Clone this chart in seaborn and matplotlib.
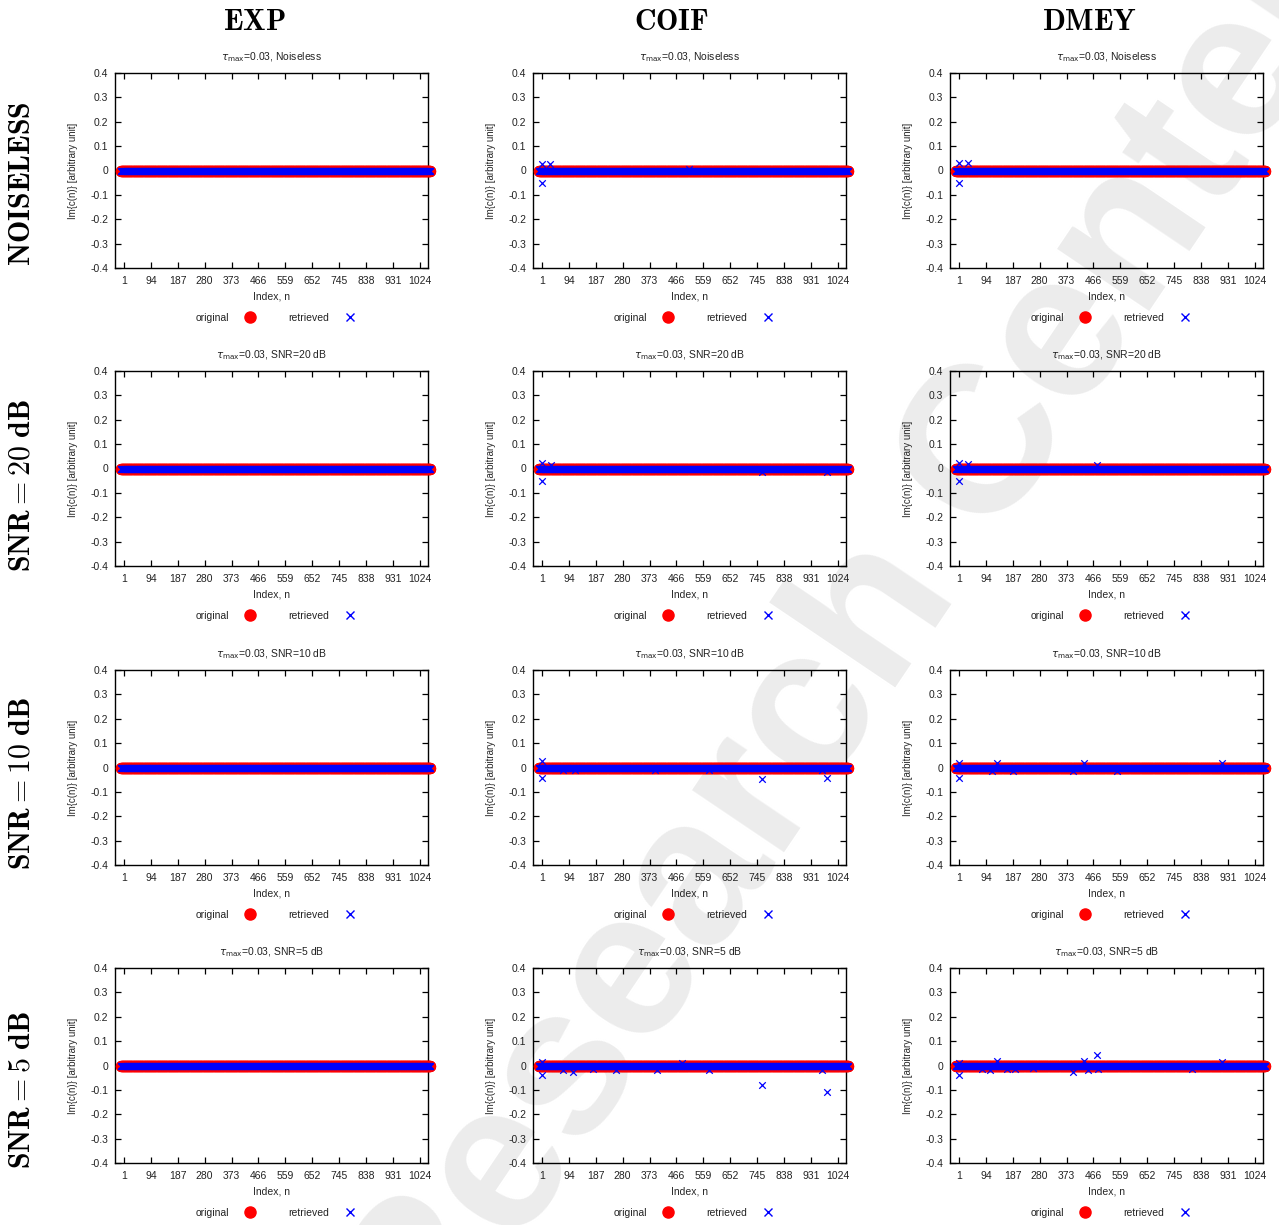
import numpy as np
import matplotlib
matplotlib.use("Agg")
import matplotlib.pyplot as plt
from matplotlib.lines import Line2D
import seaborn as sns

sns.set_theme(style="ticks")
plt.rcParams["font.family"] = ["Liberation Sans", "DejaVu Sans"]
plt.rcParams["axes.edgecolor"] = "black"
plt.rcParams["text.color"] = "#222222"

# ---- data -----------------------------------------------------------------
index_n = np.arange(-10, 1061)                     # coefficient index
xtick_values = [1, 94, 187, 280, 373, 466, 559, 652, 745, 838, 931, 1024]
ytick_values = [-0.4, -0.3, -0.2, -0.1, 0.0, 0.1, 0.2, 0.3, 0.4]
ytick_labels = ["-0.4", "-0.3", "-0.2", "-0.1", "0", "0.1", "0.2", "0.3", "0.4"]

methods = ["EXP", "COIF", "DMEY"]
conditions = ["Noiseless", "SNR=20 dB", "SNR=10 dB", "SNR=5 dB"]
row_labels = ["NOISELESS", "SNR{=}20\\ dB", "SNR{=}10\\ dB", "SNR{=}5\\ dB"]
tau_max = 0.03

# original imaginary part: identically zero
original_values = np.zeros(len(index_n))

# retrieved coefficients that deviate from zero (index, value)
exp_noiseless_n, exp_noiseless_v = [], []
exp_snr20_n, exp_snr20_v = [], []
exp_snr10_n, exp_snr10_v = [], []
exp_snr5_n, exp_snr5_v = [], []

coif_noiseless_n = [0, 2, 29, 509]
coif_noiseless_v = [0.025, -0.05, 0.025, 0.008]
coif_snr20_n = [0, 2, 31, 762, 988]
coif_snr20_v = [0.023, -0.052, 0.015, -0.016, -0.016]
coif_snr10_n = [0, 2, 73, 115, 392, 578, 762, 968, 988]
coif_snr10_v = [0.025, -0.044, -0.01, -0.01, -0.01, -0.01, -0.049, -0.012, -0.045]
coif_snr5_n = [0, 2, 75, 109, 178, 256, 397, 484, 578, 762, 968, 988]
coif_snr5_v = [0.016, -0.038, -0.02, -0.025, -0.015, -0.02, -0.018, 0.012,
               -0.02, -0.081, -0.02, -0.11]

dmey_noiseless_n = [0, 2, 31]
dmey_noiseless_v = [0.029, -0.05, 0.029]
dmey_snr20_n = [0, 2, 31, 477]
dmey_snr20_v = [0.023, -0.052, 0.019, 0.014]
dmey_snr10_n = [0, 2, 114, 133, 189, 396, 434, 548, 909]
dmey_snr10_v = [0.02, -0.044, -0.013, 0.02, -0.013, -0.015, 0.02, -0.013, 0.02]
dmey_snr5_n = [0, 2, 79, 108, 133, 166, 195, 258, 396, 434, 448, 477, 482, 805, 909]
dmey_snr5_v = [0.01, -0.038, -0.015, -0.02, 0.02, -0.015, -0.015, -0.012,
               -0.025, 0.019, -0.02, 0.042, -0.015, -0.015, 0.016]

deviations = {
    ("EXP", 0): (exp_noiseless_n, exp_noiseless_v),
    ("EXP", 1): (exp_snr20_n, exp_snr20_v),
    ("EXP", 2): (exp_snr10_n, exp_snr10_v),
    ("EXP", 3): (exp_snr5_n, exp_snr5_v),
    ("COIF", 0): (coif_noiseless_n, coif_noiseless_v),
    ("COIF", 1): (coif_snr20_n, coif_snr20_v),
    ("COIF", 2): (coif_snr10_n, coif_snr10_v),
    ("COIF", 3): (coif_snr5_n, coif_snr5_v),
    ("DMEY", 0): (dmey_noiseless_n, dmey_noiseless_v),
    ("DMEY", 1): (dmey_snr20_n, dmey_snr20_v),
    ("DMEY", 2): (dmey_snr10_n, dmey_snr10_v),
    ("DMEY", 3): (dmey_snr5_n, dmey_snr5_v),
}

# ---- layout (pixel grid) --------------------------------------------------
W, H = 1279, 1225
col_left = [115, 533, 950]
row_top = [73, 371, 670, 968]
ax_w, ax_h = 313, 195
col_title_x = [254, 672, 1089]
row_label_y = [184, 485, 783, 1090]

fig = plt.figure(figsize=(W / 100, H / 100), dpi=100)

# faint background lettering
fig.text(431 / W, 1 - 1376 / H, "Research Center", rotation=56,
         rotation_mode="anchor", ha="left", va="baseline",
         fontsize=151, fontweight="bold", color="#ececec", zorder=-5)

legend_handles = [
    Line2D([], [], linestyle="none", marker="o", markersize=8,
           markerfacecolor="red", markeredgecolor="red"),
    Line2D([], [], linestyle="none", marker="x", markersize=5.5,
           markeredgewidth=1.0, color="blue"),
]

for r in range(4):
    for c, method in enumerate(methods):
        ax = fig.add_axes([col_left[c] / W, 1 - (row_top[r] + ax_h) / H,
                           ax_w / W, ax_h / H])
        ax.set_facecolor("none")

        dev_n, dev_v = deviations[(method, r)]
        retrieved = np.zeros(len(index_n))
        for k, v in zip(dev_n, dev_v):
            retrieved[k - index_n[0]] = v

        ax.axhline(0, color="#8a8a8a", lw=1.0, zorder=1)
        sns.scatterplot(x=index_n, y=original_values, ax=ax, color="red",
                        marker="o", s=66, linewidth=0, legend=False,
                        clip_on=False, zorder=3)
        sns.scatterplot(x=index_n, y=retrieved, ax=ax, color="blue",
                        marker="x", s=22, linewidth=0.9, legend=False,
                        clip_on=False, zorder=4)

        ax.set_xlim(-30, 1052)
        ax.set_ylim(-0.4, 0.4)
        ax.set_xticks(xtick_values)
        ax.set_xticklabels([str(v) for v in xtick_values])
        ax.set_yticks(ytick_values)
        ax.set_yticklabels(ytick_labels)
        ax.tick_params(direction="in", top=True, right=True, length=4,
                       width=0.9, labelsize=7.5, colors="black",
                       labelcolor="#222222")
        ax.tick_params(axis="y", pad=5)
        ax.tick_params(axis="x", pad=6)
        for sp in ax.spines.values():
            sp.set_visible(True)
            sp.set_linewidth(1.0)
            sp.set_color("black")

        ax.set_xlabel("Index, n", fontsize=7.5, labelpad=4)
        ax.set_ylabel("Im{c(n)} [arbitrary unit]", fontsize=7, labelpad=9)
        ax.set_title(r"$\tau_{\mathrm{max}}$=" + f"{tau_max:g}, {conditions[r]}",
                     fontsize=7.5, pad=9, math_fontfamily="dejavusans")

        ax.legend(legend_handles, ["original", "retrieved"], loc="center",
                  bbox_to_anchor=(0.5 + 4 / ax_w, -50 / ax_h), ncol=2,
                  frameon=False, markerfirst=False, fontsize=7.5,
                  handlelength=1.0, handletextpad=1.5, columnspacing=3.2)

for c, method in enumerate(methods):
    fig.text(col_title_x[c] / W, 1 - 22 / H, r"$\mathbf{" + method + "}$",
             ha="center", va="center", fontsize=21.5, color="black",
             math_fontfamily="cm")

for r, lab in enumerate(row_labels):
    fig.text(22 / W, 1 - row_label_y[r] / H, r"$\mathbf{" + lab + "}$",
             ha="center", va="center", rotation=90, fontsize=21.5,
             color="black", math_fontfamily="cm")

fig.savefig("out.png", dpi=100)
